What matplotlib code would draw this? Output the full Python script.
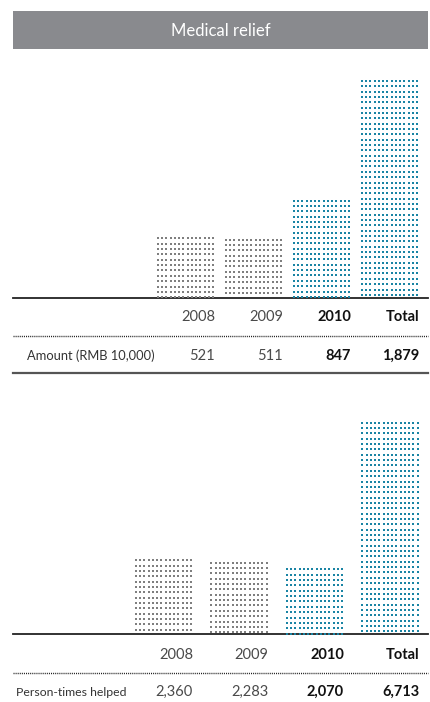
import numpy as np
import matplotlib
matplotlib.use("Agg")
import matplotlib.pyplot as plt
from matplotlib.patches import Rectangle
from matplotlib.lines import Line2D
import matplotlib.transforms as mtransforms

plt.rcParams['font.family'] = ['Lato', 'DejaVu Sans']

# ---------------- data ----------------
title = "Medical relief"
categories = ["2008", "2009", "2010", "Total"]
amount = [521, 511, 847, 1879]
amount_labels = ["521", "511", "847", "1,879"]
persons = [2360, 2283, 2070, 6713]
persons_labels = ["2,360", "2,283", "2,070", "6,713"]
row_label_amount = "Amount (RMB 10,000)"
row_label_persons = "Person-times helped"
highlight = [False, False, True, True]

GREY = "#7f7f7f"
TEAL = "#1a84a4"
W, H = 430, 702

fig = plt.figure(figsize=(W / 100, H / 100), dpi=100)
bg = fig.add_axes([0, 0, 1, 1])
bg.set_xlim(0, W)
bg.set_ylim(H, 0)
bg.axis("off")

# header band
bg.add_patch(Rectangle((13, 11), 415, 38, facecolor="#898a8e", edgecolor="none"))
bg.text(221, 30.5, title, color="white", fontsize=12, ha="center", va="center")


def px_axes(left, top, right, bottom):
    return fig.add_axes([left / W, 1 - bottom / H, (right - left) / W, (bottom - top) / H])


def dotted_bars(ax, values, width, ylim_top, axes_h_px, axes_w_px, xlim):
    ax.set_xlim(*xlim)
    ax.set_ylim(0, ylim_top)
    ax.axis("off")
    px_per_y = axes_h_px / ylim_top
    px_per_x = axes_w_px / (xlim[1] - xlim[0])
    dy = 5.35 / px_per_y
    ncols = 14
    inset = 1.8 / px_per_x
    bars = ax.bar(range(len(values)), values, width=width, color="none", edgecolor="none")
    for i, (b, v) in enumerate(zip(bars, values)):
        x0 = b.get_x() + inset
        x1 = b.get_x() + b.get_width() - inset
        xs = np.linspace(x0, x1, ncols)
        ys = np.arange(v - 0.8 / px_per_y, 0, -dy)
        gx, gy = np.meshgrid(xs, ys)
        ax.scatter(gx.ravel(), gy.ravel(), s=3.2, marker="s", linewidths=0,
                   color=TEAL if highlight[i] else GREY)
    return bars


def table(ax, baseline, header_y, dotted_y, values_y, bottom_line_y, label, label_x, vlabels, width, label_size):
    trans = mtransforms.blended_transform_factory(ax.transData, bg.transData)
    bg.add_line(Line2D([13, 428], [baseline, baseline], color="#222222", lw=1.3))
    bg.add_line(Line2D([13, 428], [dotted_y, dotted_y], color="#222222", lw=1.0,
                       linestyle=(0, (0.75, 0.75))))
    if bottom_line_y is not None:
        bg.add_line(Line2D([13, 428], [bottom_line_y, bottom_line_y], color="#555555", lw=1.6))
    for i, (c, v) in enumerate(zip(categories, vlabels)):
        xr = i + width / 2
        bold = highlight[i]
        ax.text(xr, header_y, c, transform=trans, ha="right", va="center", fontsize=10.5,
                color="#111111" if bold else "#4a4a4a", fontweight="bold" if bold else "normal")
        ax.text(xr, values_y, v, transform=trans, ha="right", va="center", fontsize=10.5,
                color="#111111" if bold else "#4a4a4a", fontweight="bold" if bold else "normal")
    bg.text(label_x, values_y, label, ha="left", va="center", fontsize=label_size, color="#333333",
            fontweight="normal")


# top chart
top_xlim = (-2.537, 3.566)
ax1 = px_axes(13, 60, 428, 298)
dotted_bars(ax1, amount, 59 / 68, 2052, 238, 415, top_xlim)
table(ax1, 298, 317, 336, 356, 373, row_label_amount, 27, amount_labels, 59 / 68, 9.3)

# bottom chart
bot_xlim = (-1.993, 3.503)
ax2 = px_axes(13, 400, 428, 634)
dotted_bars(ax2, persons, 59 / 75.5, 7405, 234, 415, bot_xlim)
table(ax2, 634, 655, 673, 692, None, row_label_persons, 16, persons_labels, 59 / 75.5, 8.8)

fig.savefig("out.png", dpi=100)
